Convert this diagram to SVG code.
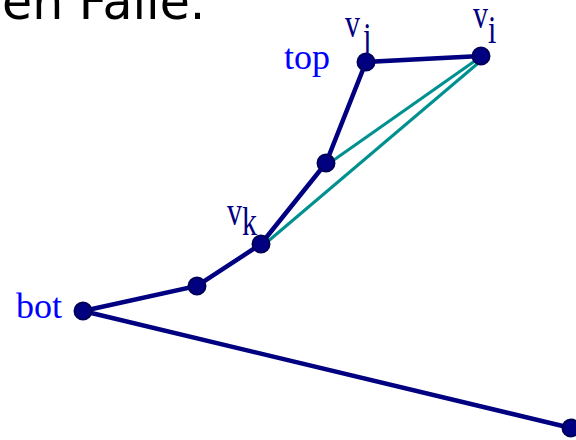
<svg xmlns="http://www.w3.org/2000/svg" width="576" height="440" viewBox="0 0 576 440">
<style>
.title{font-family:"DejaVu Sans",sans-serif;font-size:49px;fill:#000}
.lab{font-family:"Liberation Serif",serif;fill:#0000ff;font-size:36px}
.v{font-family:"Liberation Serif",serif;fill:#000080;font-size:30px}
.sub{font-size:30px}
.edge{stroke:#000080;stroke-width:4.5;fill:none;stroke-linecap:round}
.diag{stroke:#009090;stroke-width:3;fill:none}
.node{fill:#000080;stroke:#00005a;stroke-width:2}
</style>
<text class="title" x="2" y="19">en Falle.</text>
<g id="connectors">
<polyline class="edge" points="571,428 83,311 197,286 261,244 326,163 366,62 481,56"/>
<line class="diag" x1="479" y1="58" x2="331" y2="162"/>
<line class="diag" x1="483" y1="59" x2="266" y2="243"/>
</g>
<g id="n-vi"><circle class="node" cx="481" cy="56" r="8.5"/><text class="v" transform="translate(473,28) scale(1,1.3)">v<tspan class="sub" dy="11.5">i</tspan></text></g>
<g id="n-vj"><circle class="node" cx="366" cy="62" r="8.5"/><text class="lab" x="284" y="69">top</text><text class="v" transform="translate(345,37) scale(1,1.3)">v<tspan class="sub" dx="3" dy="10">j</tspan></text></g>
<g id="n-mid"><circle class="node" cx="326" cy="163" r="8.5"/></g>
<g id="n-vk"><circle class="node" cx="261" cy="244" r="8.5"/><text class="v" transform="translate(227,225) scale(1,1.3)">v<tspan class="sub" dx="0" dy="7.7">k</tspan></text></g>
<g id="n-a"><circle class="node" cx="197" cy="286" r="8.5"/></g>
<g id="n-bot"><circle class="node" cx="83" cy="311" r="8.5"/><text class="lab" x="16" y="318">bot</text></g>
<g id="n-end"><circle class="node" cx="571" cy="428" r="8.5"/></g>
</svg>
